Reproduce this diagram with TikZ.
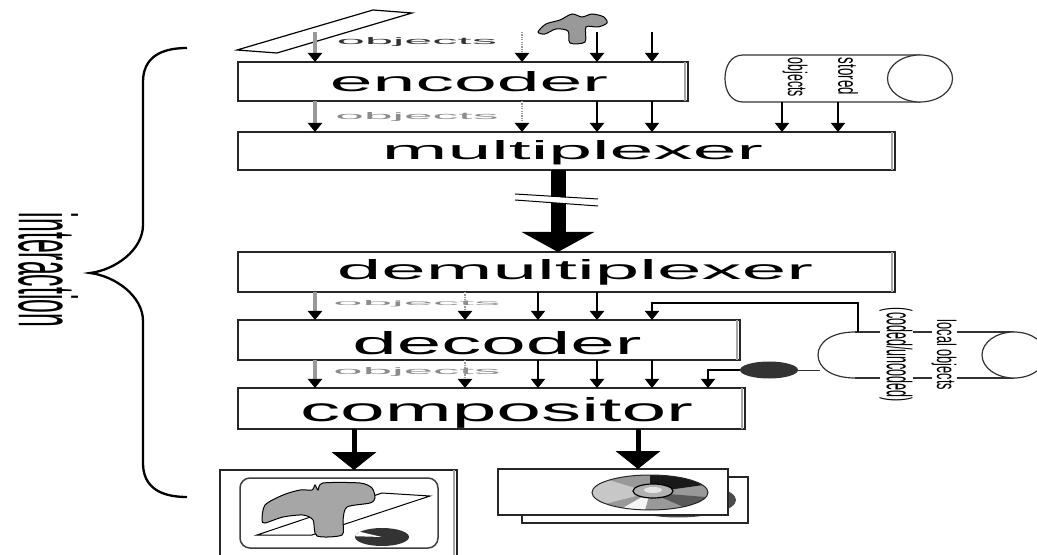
\documentclass[tikz,border=0pt]{standalone}
\usepackage{graphicx}
\usepackage{fontspec}
\setmainfont{Liberation Sans}
\usetikzlibrary{arrows.meta,shapes.geometric}

\begin{document}
\begin{tikzpicture}[x=1bp,y=-1bp,
  box/.style={draw=black!85, line width=1.3bp, fill=white, inner sep=0pt, outer sep=0pt},
  lbl/.style={anchor=base, inner sep=0pt},
  vlbl/.style={rotate=-90, inner sep=0pt},
  hd/.style={-{Triangle[width=14bp,length=9bp,color=black]}},
  grayarr/.style={hd, draw=black!40, line width=3.5bp},
  dotarr/.style={hd, draw=black!40, line width=2.5bp, dash pattern=on 1.2bp off 1.2bp},
  thinarr/.style={hd, draw=black, line width=1.2bp},
  thickarr/.style={hd, draw=black, line width=2.8bp},
  bigarr/.style={-{Triangle[width=44bp,length=18bp]}, draw=black, line width=5bp},
  cyl/.style={draw=black!80, line width=1.2bp},
]
\useasboundingbox (0,0) rectangle (1037,555);

% lanes of the object streams
\coordinate (L1) at (315,0);
\coordinate (L2) at (522,0);
\coordinate (L2b) at (465,0);
\coordinate (L3) at (538,0);
\coordinate (L4) at (597,0);
\coordinate (L5) at (652,0);
\coordinate (L6) at (708,0);
\coordinate (S1) at (782,0);
\coordinate (S2) at (838,0);
\coordinate (M) at (558,0);
\coordinate (O1) at (354,0);
\coordinate (O2) at (638,0);

% processing stages
\node[box, minimum width=450bp, minimum height=39bp] (enc) at (463,81.5) {};
\node[box, minimum width=657bp, minimum height=38bp] (mux) at (566.5,151) {};
\node[box, minimum width=657bp, minimum height=40bp] (demux) at (566.5,272) {};
\node[box, minimum width=502bp, minimum height=40bp] (dec) at (489,340) {};
\node[box, minimum width=507bp, minimum height=41bp] (comp) at (491.5,408.5) {};
\foreach \b in {enc,mux,demux,dec,comp}
  \draw[black!35, line width=2bp] ([xshift=-3.5bp]\b.north east) -- ([xshift=-3.5bp]\b.south east);

\node[lbl] (tenc) at (469,92) {\resizebox{278bp}{20bp}{encoder}};
\node[lbl] (tmux) at (572.5,160) {\resizebox{381bp}{19bp}{multiplexer}};
\node[lbl] (tdemux) at (575,280) {\resizebox{476bp}{20bp}{demultiplexer}};
\node[lbl] (tdec) at (497,355) {\resizebox{289bp}{23bp}{decoder}};
\node[lbl] (tcomp) at (496.5,421) {\resizebox{393bp}{24bp}{compositor}};

% stream labels
\node[lbl, text=black!80] (ob1) at (417,45) {\resizebox{160bp}{7bp}{objects}};
\node[lbl, text=black!45] (ob2) at (417,120) {\resizebox{163bp}{7bp}{objects}};
\node[lbl, text=black!45] (ob3) at (417,306) {\resizebox{167bp}{5bp}{objects}};
\node[lbl, text=black!45] (ob4) at (417,375) {\resizebox{167bp}{7bp}{objects}};

% source objects: plane and figure
\draw[black, line width=1.2bp, fill=white] (237,50) -- (373,10) -- (412,13) -- (277,53) -- cycle;
\draw[black, line width=1bp, fill=black!40] plot[smooth cycle, tension=0.5] coordinates
  {(538,32) (546,24) (560,20) (572,14) (582,17) (592,14) (604,17) (607,23) (598,27) (586,27) (585,42) (570,43) (568,31) (556,29) (545,34)};
\coordinate (t1) at (315,32);
\coordinate (t2) at (522,32);
\coordinate (t3) at (597,32);
\coordinate (t4) at (652,32);

% source -> encoder
\draw[grayarr] (t1) -- (t1 |- enc.north);
\draw[dotarr] (t2) -- (t2 |- enc.north);
\draw[thickarr] (t3) -- (t3 |- enc.north);
\draw[thinarr] (t4) -- (t4 |- enc.north);

% stored objects
\draw[cyl] (920,55) -- (743,55) .. controls (731,55) and (725,66) .. (725,78.5)
  .. controls (725,91) and (731,102) .. (743,102) -- (920,102);
\draw[cyl, fill=white] (920,78.5) ellipse[x radius=32.5, y radius=23.5];
\node[vlbl] (tobj) at (795,77.5) {\resizebox*{39bp}{25bp}{objects}};
\node[vlbl] (tsto) at (848,76.5) {\resizebox*{37bp}{20bp}{stored}};
\coordinate (st1) at (782,102);
\coordinate (st2) at (838,102);

% encoder -> multiplexer
\draw[grayarr] (enc.south -| L1) -- (mux.north -| L1);
\draw[dotarr] (enc.south -| L2) -- (mux.north -| L2);
\draw[thickarr] (enc.south -| L4) -- (mux.north -| L4);
\draw[thinarr] (enc.south -| L5) -- (mux.north -| L5);
\draw[thinarr] (st1) -- (mux.north -| S1);
\draw[thinarr] (st2) -- (mux.north -| S2);

% transmission channel
\draw[-{Triangle[width=72bp,length=20bp]}, line width=15bp] (mux.south -| M) -- (demux.north -| M);
\fill[white] (515,194.5) -- (598,199.5) -- (598,205.5) -- (515,200.5) -- cycle;
\draw[line width=1bp] (515,194) -- (598,199);
\draw[line width=1bp] (515,200) -- (598,206);

% local objects
\draw[cyl] (855,332) -- (1014,332);
\draw[cyl] (855,378) -- (1014,378);
\draw[cyl] (855,332) .. controls (832,332) and (818,342) .. (818,355)
  .. controls (818,368) and (832,378) .. (855,378);
\draw[cyl, fill=white] (1014,355) ellipse[x radius=32, y radius=23];
\node[vlbl, fill=white] (tloc) at (944,355) {\resizebox*{70bp}{25bp}{local objects}};
\node[vlbl, fill=white] (tcod) at (896,355) {\resizebox*{94bp}{33bp}{(coded/uncoded)}};
\coordinate (lctop) at (858,332);
\coordinate (lck) at (858,303);
\coordinate (lcl) at (820,370);
\node[ellipse, fill=black!80, minimum width=58bp, minimum height=17bp, inner sep=0pt] (de) at (769,370) {};

% demultiplexer -> decoder
\draw[grayarr] (demux.south -| L1) -- (dec.north -| L1);
\draw[dotarr] (demux.south -| L2b) -- (dec.north -| L2b);
\draw[thinarr] (demux.south -| L3) -- (dec.north -| L3);
\draw[thickarr] (demux.south -| L4) -- (dec.north -| L4);
\draw[thinarr, line width=1.6bp] (lctop) -- (lck) -| (dec.north -| L5);

% decoder -> compositor
\draw[grayarr] (dec.south -| L1) -- (comp.north -| L1);
\draw[dotarr] (dec.south -| L2b) -- (comp.north -| L2b);
\draw[thinarr] (dec.south -| L3) -- (comp.north -| L3);
\draw[thickarr] (dec.south -| L4) -- (comp.north -| L4);
\draw[thinarr] (dec.south -| L5) -- (comp.north -| L5);
\draw[thinarr] (de.west) -| (comp.north -| L6);
\draw[black!80, line width=1bp] (de.east) -- (lcl);

% presentation: scene display
\node[box, minimum width=237bp, minimum height=95bp] (outL) at (338.5,517.5) {};
\draw[black!35, line width=2bp] ([xshift=-3.5bp]outL.north east) -- ([xshift=-3.5bp]outL.south east);
\draw[black!75, line width=1.5bp, rounded corners=10bp] (240,478) rectangle (438,548);
\draw[black, line width=1bp, fill=white] (257,535) -- (312,535) -- (430,496) -- (382,493) -- cycle;
\fill[black!80] (382,537) ellipse[x radius=27, y radius=9];
\fill[white] (382,537) -- ++(185:27 and 9) arc[start angle=185, end angle=215, x radius=27, y radius=9] -- cycle;
\draw[black, line width=1bp, fill=black!35] plot[smooth cycle, tension=0.45] coordinates
  {(262,520) (265,505) (283,495) (300,490) (312,490) (315,485) (318,490) (323,483) (360,483) (372,488) (375,498) (370,503) (347,507) (343,520) (342,535) (317,536) (313,520) (303,515) (283,517) (265,523)};

% presentation: stored media
\node[box, minimum width=226bp, minimum height=46bp] (outRb) at (635,500) {};
\fill[black!70] (678,500) ellipse[x radius=58, y radius=17.5];
\node[box, minimum width=230bp, minimum height=46bp] (outR) at (613,492) {};
\coordinate (cd) at (650,492.5);
\fill[black!40] (cd) ellipse[x radius=58, y radius=17.5];
\fill[black!22] (cd) -- ++(140:58 and 17.5) arc[start angle=140, end angle=225, x radius=58, y radius=17.5] -- cycle;
\fill[black!90] (cd) -- ++(270:58 and 17.5) arc[start angle=270, end angle=335, x radius=58, y radius=17.5] -- cycle;
\fill[black!65] (cd) -- ++(15:58 and 17.5) arc[start angle=15, end angle=55, x radius=58, y radius=17.5] -- cycle;
\fill[black!4] (cd) -- ++(95:58 and 17.5) arc[start angle=95, end angle=118, x radius=58, y radius=17.5] -- cycle;
\draw[black!85, line width=1bp] (cd) ellipse[x radius=58, y radius=17.5];
\draw[black, fill=black!30, line width=1.2bp] (653,491) ellipse[x radius=20, y radius=7];
\fill[black!10] (653,490) ellipse[x radius=9, y radius=3];

% compositor -> displays
\draw[bigarr] (comp.south -| O1) -- (outL.north -| O1);
\draw[bigarr] (comp.south -| O2) -- (outR.north -| O2);

% interaction brace
\draw[line width=2.3bp] (187,48) .. controls (160,48) and (143,58) .. (143,82) -- (143,225)
  .. controls (143,250) and (115,270) .. (90,273)
  .. controls (115,276) and (143,296) .. (143,321) -- (143,463)
  .. controls (143,487) and (160,497) .. (187,497);
\node[vlbl] (tint) at (48,270) {\resizebox*{114bp}{60bp}{interaction}};
\end{tikzpicture}
\end{document}
